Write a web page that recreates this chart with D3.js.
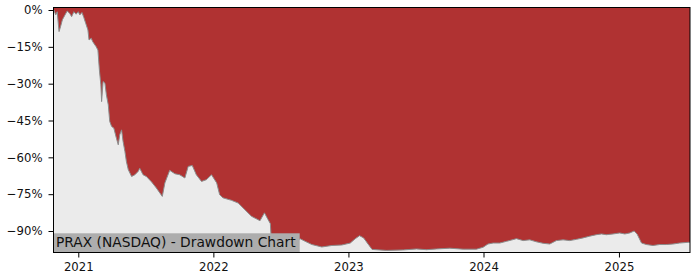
<!DOCTYPE html>
<html>
<head>
<meta charset="utf-8">
<script src="https://cdn.jsdelivr.net/npm/d3@7"></script>
<style>
  body { margin: 0; background: #fff; }
  svg { display: block; font-family: "DejaVu Sans", sans-serif; }
</style>
</head>
<body>
<div id="chart"></div>
<script>
// Set up SVG dimensions
const w = 700;
const h = 280;
const plot = {left: 53.5, right: 690, top: 7.5, bottom: 252.5};

// Drawdown readings (date, percent below previous peak)
const dates = [
  "2020-10-26", "2020-10-27", "2020-11-01", "2020-11-05", "2020-11-10", "2020-11-14", "2020-11-19",
  "2020-11-26", "2020-12-02", "2020-12-09", "2020-12-14", "2020-12-20", "2020-12-26",
  "2021-01-01", "2021-01-05", "2021-01-11", "2021-01-16", "2021-01-21", "2021-01-27", "2021-01-30",
  "2021-02-05", "2021-02-09", "2021-02-18", "2021-02-23", "2021-02-27", "2021-03-03", "2021-03-05",
  "2021-03-09", "2021-03-14", "2021-03-18", "2021-03-23", "2021-03-27", "2021-04-01", "2021-04-07",
  "2021-04-14", "2021-04-19", "2021-04-23", "2021-04-28", "2021-05-02", "2021-05-07", "2021-05-11",
  "2021-05-16", "2021-05-25", "2021-06-03", "2021-06-12", "2021-06-16", "2021-06-25", "2021-07-04",
  "2021-07-18", "2021-07-31", "2021-08-16", "2021-08-23", "2021-09-05", "2021-09-19", "2021-10-02",
  "2021-10-16", "2021-10-25", "2021-11-05", "2021-11-16", "2021-11-30", "2021-12-13", "2021-12-27",
  "2022-01-10", "2022-01-18", "2022-01-27", "2022-02-19", "2022-03-09", "2022-03-27", "2022-04-14",
  "2022-05-07", "2022-05-19", "2022-05-29", "2022-06-04", "2022-06-08", "2022-06-30", "2022-07-27",
  "2022-08-24", "2022-09-06", "2022-09-24", "2022-10-21", "2022-11-17", "2022-12-14",
  "2023-01-06", "2023-01-19", "2023-01-31", "2023-02-11", "2023-02-23", "2023-03-06", "2023-04-14",
  "2023-05-29", "2023-07-04", "2023-07-31", "2023-08-27", "2023-10-02", "2023-11-07", "2023-12-13",
  "2023-12-31", "2024-01-13", "2024-01-27", "2024-02-14", "2024-03-03", "2024-03-21", "2024-03-30",
  "2024-04-17", "2024-05-05", "2024-05-23", "2024-06-10", "2024-06-28", "2024-07-16", "2024-08-03",
  "2024-08-21", "2024-09-08", "2024-09-26", "2024-10-14", "2024-11-01", "2024-11-15", "2024-11-28",
  "2024-12-16", "2025-01-03", "2025-01-17", "2025-01-30", "2025-02-11", "2025-02-19", "2025-03-03",
  "2025-03-16", "2025-04-03", "2025-04-21", "2025-05-09", "2025-05-27", "2025-06-14", "2025-07-07",
  "2025-07-12"
];
const drawdown = [
  0, 0, -2, -0.7, -8.8, -6.8, -4,
  -2, -0.4, -1.4, -2.7, -0.7, -1.7,
  -0.7, -2, -1, -3.1, -5.4, -8.1, -12.2,
  -11.5, -12.9, -14.9, -16.3, -24.4, -30.5, -37.3,
  -29.1, -29.8, -34.6, -38.6, -45.4, -47.4, -48.1,
  -52.2, -54.9, -50.8, -48.8, -53.5, -57.6, -61.7,
  -65, -67.8, -67.1, -65.7, -64.4, -67.1, -67.8,
  -70, -72.5, -75.9, -70.4, -65.3, -66.7, -67.1,
  -68.4, -63.7, -63.3, -67.1, -69.8, -69.1, -67.1,
  -70.4, -75.2, -76.5, -77.5, -78.6, -81.3, -84,
  -85.8, -82.6, -85.4, -87, -97.3, -97, -95.5,
  -93.2, -94.2, -95.5, -96.5, -95.9, -95.7,
  -94.9, -93.2, -91.9, -92.8, -95.3, -97.5, -97.9,
  -97.7, -97.3, -97.6, -97.3, -97, -97.4, -97.4,
  -96.6, -95.3, -94.9, -94.9, -94.2, -93.5, -93.1,
  -93.9, -93.6, -94.4, -95, -95.3, -93.9, -93.6,
  -93.9, -93.4, -92.8, -92.1, -91.5, -91.2, -91.5,
  -91.2, -90.8, -91.2, -90.8, -90, -91.2, -94.9,
  -95.5, -95.9, -95.5, -95.5, -95.3, -94.9, -94.6,
  -94.6
];
const yTicks = [0, -15, -30, -45, -60, -75, -90];
const xTicks = ["2021-01-01", "2022-01-01", "2023-01-01", "2024-01-01", "2025-01-01"];
const title = "PRAX (NASDAQ) - Drawdown Chart";

const parse = d3.timeParse("%Y-%m-%d");
const dataset = dates.map((d, i) => ({date: parse(d), dd: drawdown[i]}));

const svg = d3.select("#chart")
  .append("svg")
  .attr("width", w)
  .attr("height", h);

// Scales
const xScale = d3.scaleTime()
  .domain(d3.extent(dataset, d => d.date))
  .range([plot.left, plot.right]);

const yScale = d3.scaleLinear()
  .domain([-98.75, 1.02])
  .range([plot.bottom, plot.top]);

// Plot background
svg.append("rect")
  .attr("x", plot.left)
  .attr("y", plot.top)
  .attr("width", plot.right - plot.left)
  .attr("height", plot.bottom - plot.top)
  .attr("fill", "#ebebeb");

// Red drawdown area (from top down to the drawdown line)
const area = d3.area()
  .x(d => xScale(d.date))
  .y0(plot.top)
  .y1(d => yScale(d.dd));

svg.append("path")
  .datum(dataset)
  .attr("d", area)
  .attr("fill", "#b03232");

const line = d3.line()
  .x(d => xScale(d.date))
  .y(d => yScale(d.dd));

svg.append("path")
  .datum(dataset)
  .attr("d", line)
  .attr("fill", "none")
  .attr("stroke", "#8c8c8c")
  .attr("stroke-width", 1);

// Axes
const yAxis = d3.axisLeft(yScale)
  .tickValues(yTicks)
  .tickSize(5)
  .tickPadding(6)
  .tickFormat(d => (d < 0 ? "\u2212" : "") + Math.abs(d) + "%");

const xAxis = d3.axisBottom(xScale)
  .tickValues(xTicks.map(parse))
  .tickSize(5)
  .tickPadding(5.5)
  .tickFormat(d3.timeFormat("%Y"));

svg.append("g")
  .attr("transform", "translate(" + plot.left + ",0)")
  .call(yAxis)
  .call(g => g.select(".domain").remove())
  .selectAll("text")
  .attr("font-family", "DejaVu Sans")
  .style("font-size", "11.7px")
  .attr("fill", "#111");

svg.append("g")
  .attr("transform", "translate(0," + plot.bottom + ")")
  .call(xAxis)
  .call(g => g.select(".domain").remove())
  .selectAll("text")
  .attr("font-family", "DejaVu Sans")
  .style("font-size", "11.7px")
  .attr("fill", "#111");

// Label box
svg.append("rect")
  .attr("x", plot.left)
  .attr("y", 233.3)
  .attr("width", 246.2)
  .attr("height", plot.bottom - 233.3)
  .attr("fill", "#adadad");

svg.append("text")
  .attr("x", 56)
  .attr("y", 246.7)
  .attr("font-size", "13.8px")
  .attr("fill", "#111")
  .text(title);

// Frame
svg.append("rect")
  .attr("x", plot.left)
  .attr("y", plot.top)
  .attr("width", plot.right - plot.left)
  .attr("height", plot.bottom - plot.top)
  .attr("fill", "none")
  .attr("stroke", "#000")
  .attr("stroke-width", 1);
</script>
</body>
</html>
